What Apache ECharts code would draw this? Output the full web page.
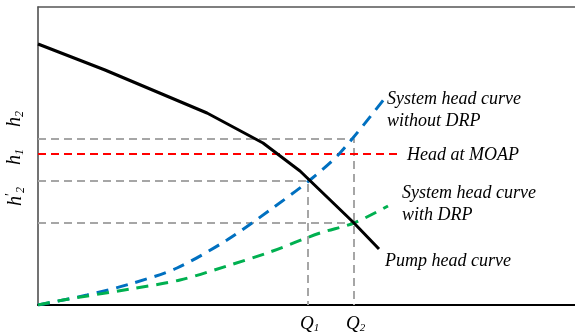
<!DOCTYPE html>
<html>
<head>
<meta charset="utf-8">
<script src="https://cdn.jsdelivr.net/npm/echarts@6/dist/echarts.min.js"></script>
<style>
html, body { margin: 0; padding: 0; background: #fff; }
#chart { width: 575px; height: 335px; }
</style>
</head>
<body>
<div id="chart"></div>
<script>
// curve points (flow, head)
var pumpX = [0, 67, 169, 225, 262, 315, 341];
var pumpY = [261, 235, 192, 162, 134, 83, 56];
var sysNoDrpX = [0, 49, 92, 139, 189, 232, 272, 302, 347];
var sysNoDrpY = [0, 10, 21, 37, 65, 95, 125, 152, 207];
var sysDrpX = [0, 25, 92, 142, 189, 232, 282, 316, 350];
var sysDrpY = [0, 5, 16, 25, 39, 53, 72, 82, 99];
// operating points
var q1 = 270, q2 = 316;
var h2 = 166, h1 = 151, h2p = 124, hDrp = 82;
var moapEnd = 362;

function pairs(xs, ys) {
    var out = [];
    for (var i = 0; i < xs.length; i++) out.push([xs[i], ys[i]]);
    return out;
}

var grayStyle = {color: '#a6a6a6', width: 2, type: [8, 5]};
var serif = '"Liberation Serif", "DejaVu Serif", serif';

function guide(data) {
    return {
        type: 'line', data: data, symbol: 'none', silent: true,
        lineStyle: grayStyle, z: 1
    };
}

// rich text: big italic letter with a small subscript
function sub(letter, idx, size, prime) {
    var rich = {
        a: {fontFamily: serif, fontStyle: 'italic', fontSize: size},
        s: {fontFamily: serif, fontStyle: 'italic', fontSize: Math.round(size * 0.6), padding: [Math.round(size * 0.5), 0, 0, 0]},
        p: {fontFamily: serif, fontSize: Math.round(size * 0.7), padding: [0, 0, Math.round(size * 0.45), 0]}
    };
    return {text: '{a|' + letter + '}' + (prime ? '{p|\u2032}' : '') + '{s|' + idx + '}', rich: rich};
}

var hidden = {
    axisTick: {show: false}, axisLabel: {show: false}, splitLine: {show: false}
};

var myChart = echarts.init(document.getElementById('chart'));
myChart.setOption({
    animation: false,
    grid: {left: 38, right: 0, top: 7, bottom: 30},
    xAxis: [
        Object.assign({
            type: 'value', min: 0, max: 537, position: 'bottom',
            axisLine: {show: true, lineStyle: {color: '#000', width: 2}}
        }, hidden),
        Object.assign({
            type: 'value', min: 0, max: 537, position: 'top',
            axisLine: {show: true, lineStyle: {color: '#555', width: 1.5}}
        }, hidden)
    ],
    yAxis: Object.assign({
        type: 'value', min: 0, max: 298,
        axisLine: {show: true, lineStyle: {color: '#444', width: 1.5}}
    }, hidden),
    series: [
        guide([[0, h2], [q2, h2], [q2, 0]]),
        guide([[0, h2p], [q1, h2p], [q1, 0]]),
        guide([[0, hDrp], [q2, hDrp]]),
        {
            type: 'line', data: [[0, h1], [moapEnd, h1]], symbol: 'none',
            lineStyle: {color: '#ff0000', width: 2, type: [8, 5]}, z: 2
        },
        {
            type: 'line', data: pairs(sysNoDrpX, sysNoDrpY), symbol: 'none', smooth: 0.3,
            lineStyle: {color: '#0070c0', width: 3, type: [12, 8]}, z: 3
        },
        {
            type: 'line', data: pairs(sysDrpX, sysDrpY), symbol: 'none', smooth: 0.3,
            lineStyle: {color: '#00b050', width: 3, type: [12, 8]}, z: 3
        },
        {
            type: 'line', data: pairs(pumpX, pumpY), symbol: 'none',
            lineStyle: {color: '#000', width: 3}, z: 4
        }
    ],
    graphic: [
        {type: 'text', left: 387, top: 88, style: {text: 'System head curve\nwithout DRP', font: 'italic 18px ' + serif, fill: '#000', lineHeight: 22}},
        {type: 'text', left: 407, top: 146, style: {text: 'Head at MOAP', font: 'italic 18px ' + serif, fill: '#000'}},
        {type: 'text', left: 402, top: 182, style: {text: 'System head curve\nwith DRP', font: 'italic 18px ' + serif, fill: '#000', lineHeight: 22}},
        {type: 'text', left: 385, top: 252, style: {text: 'Pump head curve', font: 'italic 18px ' + serif, fill: '#000'}},
        {type: 'text', x: 300, y: 313, style: sub('Q', '1', 19)},
        {type: 'text', x: 346, y: 313, style: sub('Q', '2', 19)},
        {type: 'text', x: 4, y: 127, rotation: Math.PI / 2, style: sub('h', '2', 20)},
        {type: 'text', x: 4, y: 165, rotation: Math.PI / 2, style: sub('h', '1', 20)},
        {type: 'text', x: 4, y: 206, rotation: Math.PI / 2, style: sub('h', '2', 20, true)}
    ]
});
</script>
</body>
</html>
